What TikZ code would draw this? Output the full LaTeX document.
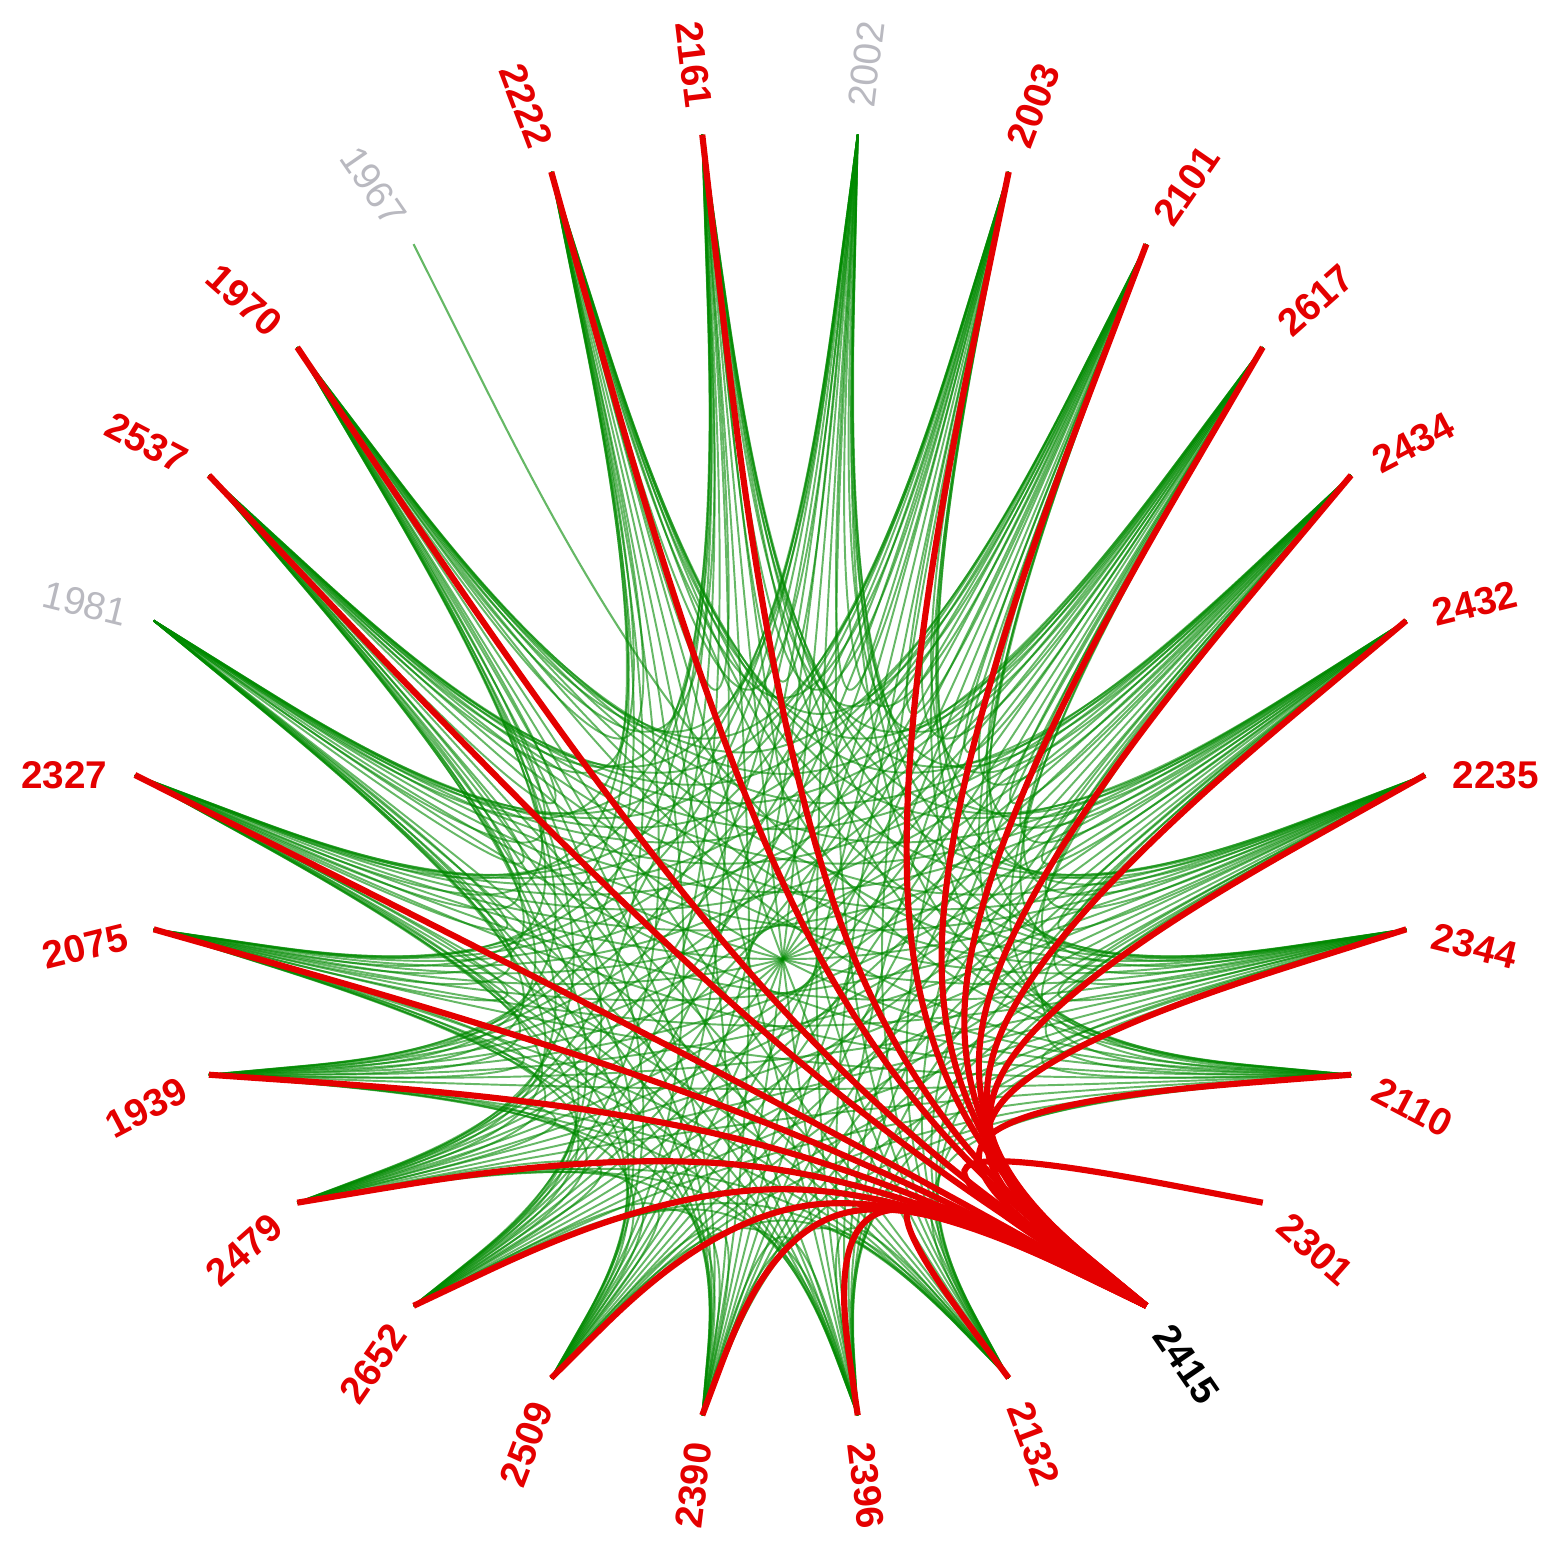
\documentclass[tikz,border=0pt]{standalone}
\usepackage{fontspec}
\setmainfont{Liberation Sans}
\usetikzlibrary{calc}
\definecolor{hotred}{RGB}{228,0,0}
\definecolor{linkgreen}{RGB}{0,138,0}
\definecolor{dimgray}{RGB}{185,185,192}
\newcommand{\greenset}{2235,2432,2434,2617,2101,2003,2002,2161,2222,1970,2537,1981,2327,2075,1939,2479,2652,2509,2390,2396,2132,2110,2344}
\newcommand{\hotset}{2235,2432,2434,2617,2101,2003,2161,2222,1970,2537,2327,2075,1939,2479,2652,2509,2390,2396,2132,2301,2110,2344}
% bundled link from node #1 to node #2, pulled towards the hub F
\newcommand{\bundle}[3]{%
  \coordinate (g) at ($0.85*(F)+0.075*(n#1)+0.075*(n#2)$);
  \draw[#3] (n#1) -- ($(n#1)!1/6!(g)$)
    .. controls ($(n#1)!1/3!(g)$) and ($(n#1)!2/3!(g)$) .. ($1/6*(n#1)+2/3*(g)+1/6*(n#2)$)
    .. controls ($(n#2)!2/3!(g)$) and ($(n#2)!1/3!(g)$) .. ($(n#2)!1/6!(g)$) -- (n#2);
}
\tikzset{
	link/.style={linkgreen, line width=0.55pt, opacity=0.6}, % green links
	hot/.style={hotred, line width=1.75pt}, % links into the focus
	tag/.style={inner sep=0pt, font=\fontsize{11}{11}\selectfont},
	tag-hot/.style={tag, text=hotred, font=\bfseries\fontsize{11}{11}\selectfont},
	tag-dim/.style={tag, text=dimgray},
	tag-focus/.style={tag, text=black, font=\bfseries\fontsize{11}{11}\selectfont},
}

\begin{document}
\begin{tikzpicture}
  \fill[white] (-7.80,-7.79) rectangle (7.82,7.75);
  \useasboundingbox (-7.80,-7.79) rectangle (7.82,7.75);
  \coordinate (F) at (0.05,-3.25);

  % ring of nodes and their labels
  \foreach \name/\kind [count=\k from 0] in {2235/hot,2432/hot,2434/hot,2617/hot,2101/hot,2003/hot,2002/dim,2161/hot,2222/hot,1967/dim,1970/hot,2537/hot,1981/dim,2327/hot,2075/hot,1939/hot,2479/hot,2652/hot,2509/hot,2390/hot,2396/hot,2132/hot,2415/focus,2301/hot,2110/hot,2344/hot}{
    \pgfmathsetmacro{\ang}{\k*360/26}
    \pgfmathtruncatemacro{\flip}{and(\ang>90,\ang<270)}
    \coordinate (n\name) at (\ang:6.45);
    \ifnum\flip=1
      \node[tag-\kind, anchor=east, rotate=\ang+180] (l\name) at (\ang:6.72) {\name};
    \else
      \node[tag-\kind, anchor=west, rotate=\ang] (l\name) at (\ang:6.72) {\name};
    \fi
  }

  % green links
  \foreach \a [count=\i] in \greenset {
    \foreach \b [count=\j] in \greenset {
      \ifnum\j>\i \bundle{\a}{\b}{link} \fi
    }
  }
  \bundle{1967}{2344}{link, line width=0.6pt}

  % red links into 2415
  \foreach \a in \hotset { \bundle{\a}{2415}{hot} }
\end{tikzpicture}
\end{document}
